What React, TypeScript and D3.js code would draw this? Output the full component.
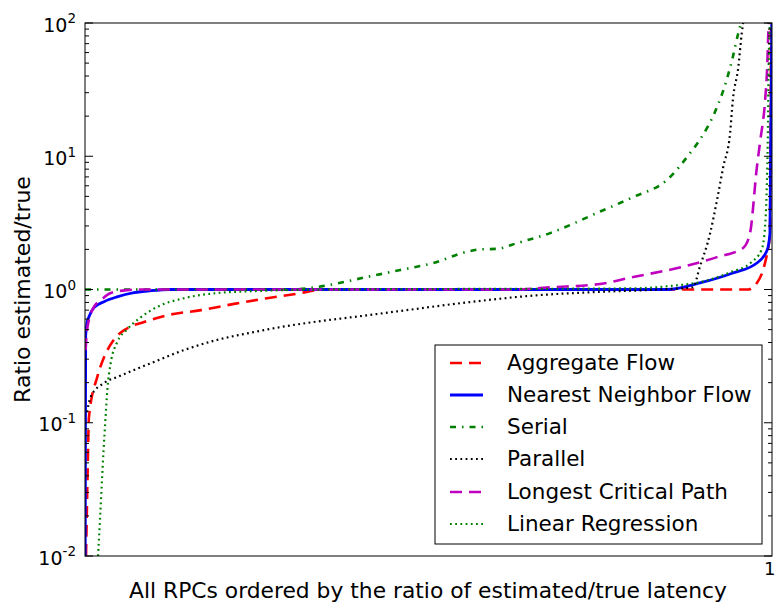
import React from "react";
import * as d3 from "d3";

const W = 776;
const H = 603;
const M = { left: 85, right: 772, top: 23, bottom: 556 };

type P = [number, number];

const aggregateFlow: P[] = [
  [0.0015, 0.01], [0.0035, 0.035], [0.0058, 0.111], [0.018, 0.222], [0.0277, 0.31], [0.042, 0.42],
  [0.061, 0.51], [0.086, 0.57], [0.119, 0.64], [0.169, 0.7], [0.217, 0.78], [0.265, 0.86],
  [0.314, 0.94], [0.338, 0.99], [0.36, 1.0], [0.965, 1.0],
  [0.978, 1.12], [0.987, 1.4], [0.993, 1.88], [0.997, 2.56], [0.9985, 100],
];
const nearestNeighbor: P[] = [
  [0.0003, 0.01], [0.0007, 0.1], [0.001, 0.45], [0.003, 0.56], [0.0058, 0.625], [0.013, 0.73],
  [0.0277, 0.81], [0.0466, 0.88], [0.0713, 0.946], [0.096, 0.98], [0.125, 1.0], [0.847, 1.0],
  [0.895, 1.12], [0.943, 1.33], [0.978, 1.58], [0.993, 1.98], [0.997, 2.65], [0.9996, 100],
];
const serial: P[] = [
  [0.0, 1.0], [0.3, 1.0], [0.346, 1.06], [0.41, 1.24], [0.459, 1.4], [0.507, 1.58], [0.556, 1.92],
  [0.575, 2.0], [0.6, 2.02], [0.629, 2.23], [0.677, 2.65], [0.75, 3.85], [0.798, 4.94],
  [0.847, 6.63], [0.881, 10.6], [0.895, 13.3], [0.92, 23.4], [0.934, 37.4], [0.943, 55.6],
  [0.951, 84], [0.955, 100],
];
const parallel: P[] = [
  [0.003, 0.12], [0.0083, 0.157], [0.0277, 0.199], [0.0466, 0.22], [0.0713, 0.249], [0.096, 0.28],
  [0.144, 0.351], [0.192, 0.418], [0.242, 0.475], [0.29, 0.528], [0.338, 0.575], [0.4, 0.63],
  [0.459, 0.69], [0.556, 0.8], [0.652, 0.9], [0.75, 0.96], [0.837, 1.0], [0.885, 1.04],
  [0.895, 1.48], [0.91, 2.65], [0.92, 4.7], [0.929, 8.3], [0.939, 14.9], [0.943, 26.4],
  [0.951, 46.8], [0.956, 84], [0.958, 100],
];
const longestCriticalPath: P[] = [
  [0.0008, 0.35], [0.003, 0.5], [0.013, 0.74], [0.023, 0.83], [0.0374, 0.94], [0.061, 0.99],
  [0.08, 1.0], [0.62, 1.0], [0.68, 1.04], [0.75, 1.1], [0.798, 1.24], [0.87, 1.48], [0.92, 1.75],
  [0.958, 2.05], [0.968, 2.65], [0.978, 8.3], [0.983, 13.2], [0.99, 26.4], [0.993, 46.8],
  [0.995, 100],
];
const linearRegression: P[] = [
  [0.019, 0.01], [0.022, 0.0196], [0.027, 0.062], [0.03, 0.111], [0.0325, 0.176], [0.0374, 0.28],
  [0.0466, 0.4], [0.061, 0.5], [0.0815, 0.62], [0.105, 0.74], [0.144, 0.86], [0.192, 0.94],
  [0.242, 0.97], [0.29, 0.99], [0.35, 1.0], [0.8, 1.02], [0.85, 1.06], [0.9, 1.15], [0.94, 1.35],
  [0.97, 1.6], [0.985, 2.0], [0.99, 3.0], [0.992, 5], [0.994, 15], [0.995, 45], [0.997, 100],
];

const seriesNames = [
  "Aggregate Flow",
  "Nearest Neighbor Flow",
  "Serial",
  "Parallel",
  "Longest Critical Path",
  "Linear Regression",
];
const seriesData = [aggregateFlow, nearestNeighbor, serial, parallel, longestCriticalPath, linearRegression];
const seriesColors = ["#ff0000", "#0000ff", "#008000", "#000000", "#bf00bf", "#008000"];
const seriesDash = ["12,7", "", "6,6,1.5,6", "1.8,3.4", "12,7", "1.8,3.4"];
const seriesWidth = [2.6, 2.8, 2.6, 2.2, 2.6, 2.2];

const yTickExps = [-2, -1, 0, 1, 2];
const xTickLabels = ["1"];
const xLabel = "All RPCs ordered by the ratio of estimated/true latency";
const yLabel = "Ratio estimated/true";

const FONT = "DejaVu Sans, sans-serif";

export default function App() {
  const x = d3.scaleLinear().domain([0, 1]).range([M.left, M.right]);
  const y = d3.scaleLog().domain([0.01, 100]).range([M.bottom, M.top]);
  const line = d3
    .line<P>()
    .x((d) => x(d[0]))
    .y((d) => y(d[1]))
    .curve(d3.curveMonotoneX);

  const minor: number[] = [];
  for (let e = -2; e < 2; e++) {
    for (let k = 2; k <= 9; k++) minor.push(k * Math.pow(10, e));
  }

  const legX = 435;
  const legY = 345;
  const legW = 327;
  const legH = 199;
  const rowY = [363, 395, 427, 459, 492, 524];

  return (
    <svg width={W} height={H} style={{ position: "absolute", left: 0, top: 0 }} fontFamily={FONT}>
      <rect x={0} y={0} width={W} height={H} fill="#fff" />
      <defs>
        <clipPath id="plotclip">
          <rect x={M.left} y={M.top} width={M.right - M.left} height={M.bottom - M.top} />
        </clipPath>
      </defs>
      <g clipPath="url(#plotclip)">
        {seriesData.map((d, i) => (
          <path
            key={i}
            d={line(d) || ""}
            fill="none"
            stroke={seriesColors[i]}
            strokeWidth={seriesWidth[i]}
            strokeDasharray={seriesDash[i] || undefined}
            strokeLinecap="butt"
            strokeLinejoin="round"
          />
        ))}
      </g>
      <rect
        x={M.left}
        y={M.top}
        width={M.right - M.left}
        height={M.bottom - M.top}
        fill="none"
        stroke="#000"
        strokeWidth={1}
      />
      {yTickExps.map((e) => {
        const yy = y(Math.pow(10, e));
        return (
          <g key={e}>
            <line x1={M.left} x2={M.left + 8} y1={yy} y2={yy} stroke="#000" />
            <line x1={M.right} x2={M.right - 8} y1={yy} y2={yy} stroke="#000" />
            <text x={76} y={yy + 8.7} textAnchor="end" fontSize={19} fill="#000">
              10
              <tspan fontSize={13.5} dy={-8.4}>
                {String(e)}
              </tspan>
            </text>
          </g>
        );
      })}
      {minor.map((v, i) => {
        const yy = y(v);
        return (
          <g key={"m" + i}>
            <line x1={M.left} x2={M.left + 4} y1={yy} y2={yy} stroke="#000" />
            <line x1={M.right} x2={M.right - 4} y1={yy} y2={yy} stroke="#000" />
          </g>
        );
      })}
      {xTickLabels.map((t) => (
        <text key={t} x={775.5} y={575} textAnchor="end" fontSize={18} fill="#000">
          {t}
        </text>
      ))}
      <text x={428} y={598} textAnchor="middle" fontSize={21.8} fill="#000">
        {xLabel}
      </text>
      <text
        transform={`translate(29.5,${(M.top + M.bottom) / 2}) rotate(-90)`}
        textAnchor="middle"
        fontSize={22}
        fill="#000"
      >
        {yLabel}
      </text>
      <rect x={legX} y={legY} width={legW} height={legH} fill="#fff" stroke="#000" strokeWidth={1} />
      {seriesNames.map((n, i) => (
        <g key={n}>
          <line
            x1={450}
            x2={483}
            y1={rowY[i]}
            y2={rowY[i]}
            stroke={seriesColors[i]}
            strokeWidth={seriesWidth[i]}
            strokeDasharray={seriesDash[i] || undefined}
          />
          <text x={507} y={rowY[i] + 7} fontSize={21.5} fill="#000">
            {n}
          </text>
        </g>
      ))}
    </svg>
  );
}
